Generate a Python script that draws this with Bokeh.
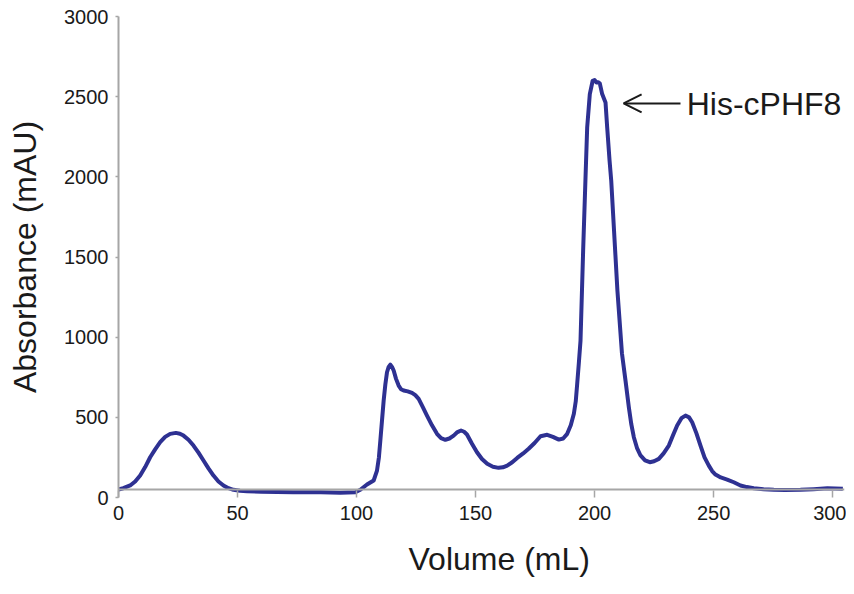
from bokeh.plotting import figure
from bokeh.models import Range1d, Span, Label, Arrow, OpenHead, FixedTicker, Title
from bokeh.embed import file_html
from bokeh.resources import INLINE

# Chromatogram trace (Volume in mL, Absorbance in mAU)
volume = [0, 2, 4.9, 7, 9.1, 11.2, 13.3, 15.4, 17.5, 19.6, 21.7, 24.1, 25.8, 27.3, 29.4,
          31.5, 33.6, 35.7, 37.8, 39.9, 42, 44.1, 46.2, 48.3, 51, 54, 60, 73.4, 85, 93.2,
          99.5, 101.6, 104.4, 107.2, 108.6, 109.4, 110, 110.7, 111.4, 112.1, 112.8, 113.5,
          114.2, 114.9, 115.6, 116.6, 117.7, 118.7, 119.8, 121.5, 123.3, 124.7, 126.1, 127.8,
          129.6, 131.7, 133.8, 135.5, 137.3, 139, 140.8, 142.4, 143.9, 145.2, 146.4, 148.5,
          150.6, 152.7, 154.9, 157.3, 159.7, 161.5, 163.3, 165.4, 167.5, 170, 172.3, 174.8,
          177.3, 180.1, 182.5, 185, 186.8, 188.5, 190, 191.3, 192.1, 192.7, 193.4, 194.1,
          195.2, 196.2, 196.9, 198, 199.2, 200, 200.8, 201.5, 202.2, 203.2, 204.6, 205.3,
          206.3, 207, 209.6, 211.5, 213, 214.4, 215.4, 216.5, 217.8, 219.3, 221.2, 223.2,
          225, 227, 229, 231.2, 233, 234.7, 236.5, 238.2, 239.7, 241, 242.8, 244.5, 246.2,
          248, 249.4, 250.8, 253, 255.7, 258.5, 261.3, 264, 266.9, 271, 275.3, 280, 286.5,
          292, 297.8, 304.3]
absorbance = [50, 58, 75, 100, 137, 190, 251, 300, 345, 378, 397, 403, 398, 386, 360,
              324, 280, 231, 182, 137, 100, 75, 58, 48, 42, 39, 36, 33, 32, 30,
              33, 48, 81, 106, 168, 250, 355, 480, 605, 705, 781, 815,
              829, 815, 792, 740, 698, 675, 667, 662, 652, 638, 615, 565,
              511, 450, 397, 370, 360, 368, 386, 408, 418, 410, 393, 335,
              282, 240, 210, 192, 185, 188, 199, 220, 247, 275, 304, 340,
              382, 391, 378, 361, 368, 397, 450, 522, 600, 709, 840, 979,
              1540, 1997, 2309, 2516, 2599, 2604, 2589, 2590, 2583, 2516, 2464, 2309,
              2101, 1976, 1290, 900, 729, 563, 460, 376, 310, 262, 232, 220,
              226, 241, 275, 324, 390, 449, 495, 511, 500, 469, 400, 324, 250,
              199, 165, 143, 125, 112, 95, 75, 65, 58, 52, 48, 47, 48,
              52, 58, 54]

x_ticks = [0, 50, 100, 150, 200, 250, 300]
y_ticks = [0, 500, 1000, 1500, 2000, 2500, 3000]
peak_label = "His-cPHF8"
x_title = "Volume (mL)"
y_title = "Absorbance (mAU)"

FONT = "Liberation Sans"
AXIS_GRAY = "#a6a6a6"
TEXT = "#1a1a1a"

p = figure(width=846, height=594, output_backend="svg", toolbar_location=None,
           x_range=Range1d(0, 305), y_range=Range1d(0, 3000),
           min_border_left=118, min_border_right=2, min_border_top=16, min_border_bottom=97)
p.outline_line_color = None
p.grid.visible = False
p.background_fill_color = "white"
p.border_fill_color = "white"

p.line(volume, absorbance, line_color="#2e3192", line_width=4, line_join="round")

# axes
p.xaxis.ticker = FixedTicker(ticks=x_ticks)
p.yaxis.ticker = FixedTicker(ticks=y_ticks)
for ax in (p.xaxis, p.yaxis):
    ax.minor_tick_line_color = None
    ax.major_tick_line_color = AXIS_GRAY
    ax.major_tick_line_width = 1.5
    ax.axis_line_color = AXIS_GRAY
    ax.axis_line_width = 2
    ax.major_label_text_font = FONT
    ax.major_label_text_font_size = "20px"
    ax.major_label_text_color = TEXT

p.xaxis.axis_line_color = None
p.xaxis.major_tick_in = 7
p.xaxis.major_tick_out = 0
p.xaxis.major_label_standoff = 8

p.yaxis.major_tick_in = 0
p.yaxis.major_tick_out = 3
p.yaxis.major_label_standoff = 7
p.yaxis.axis_label = y_title
p.yaxis.axis_label_text_font = FONT
p.yaxis.axis_label_text_font_size = "32px"
p.yaxis.axis_label_text_font_style = "normal"
p.yaxis.axis_label_text_color = TEXT
p.yaxis.axis_label_standoff = 18

# x axis line as drawn in the reference (slightly above zero)
p.add_layout(Span(location=50, dimension="width", line_color=AXIS_GRAY, line_width=2))

# x axis title, slightly right of the frame centre as in the reference
p.add_layout(Title(text=x_title, align="left", offset=290, standoff=33,
                   text_font=FONT, text_font_size="32px", text_font_style="normal",
                   text_color=TEXT), "below")

# peak annotation
p.add_layout(Arrow(end=OpenHead(size=18, line_width=2, line_color=TEXT),
                   x_start=236.1, y_start=2458, x_end=212.2, y_end=2458,
                   line_width=2, line_color=TEXT))
p.add_layout(Label(x=238.7, y=2456, text=peak_label, text_align="left",
                   text_baseline="middle", text_font=FONT,
                   text_font_size="32px", text_color=TEXT))

open("out.html", "w").write(file_html(p, INLINE))
